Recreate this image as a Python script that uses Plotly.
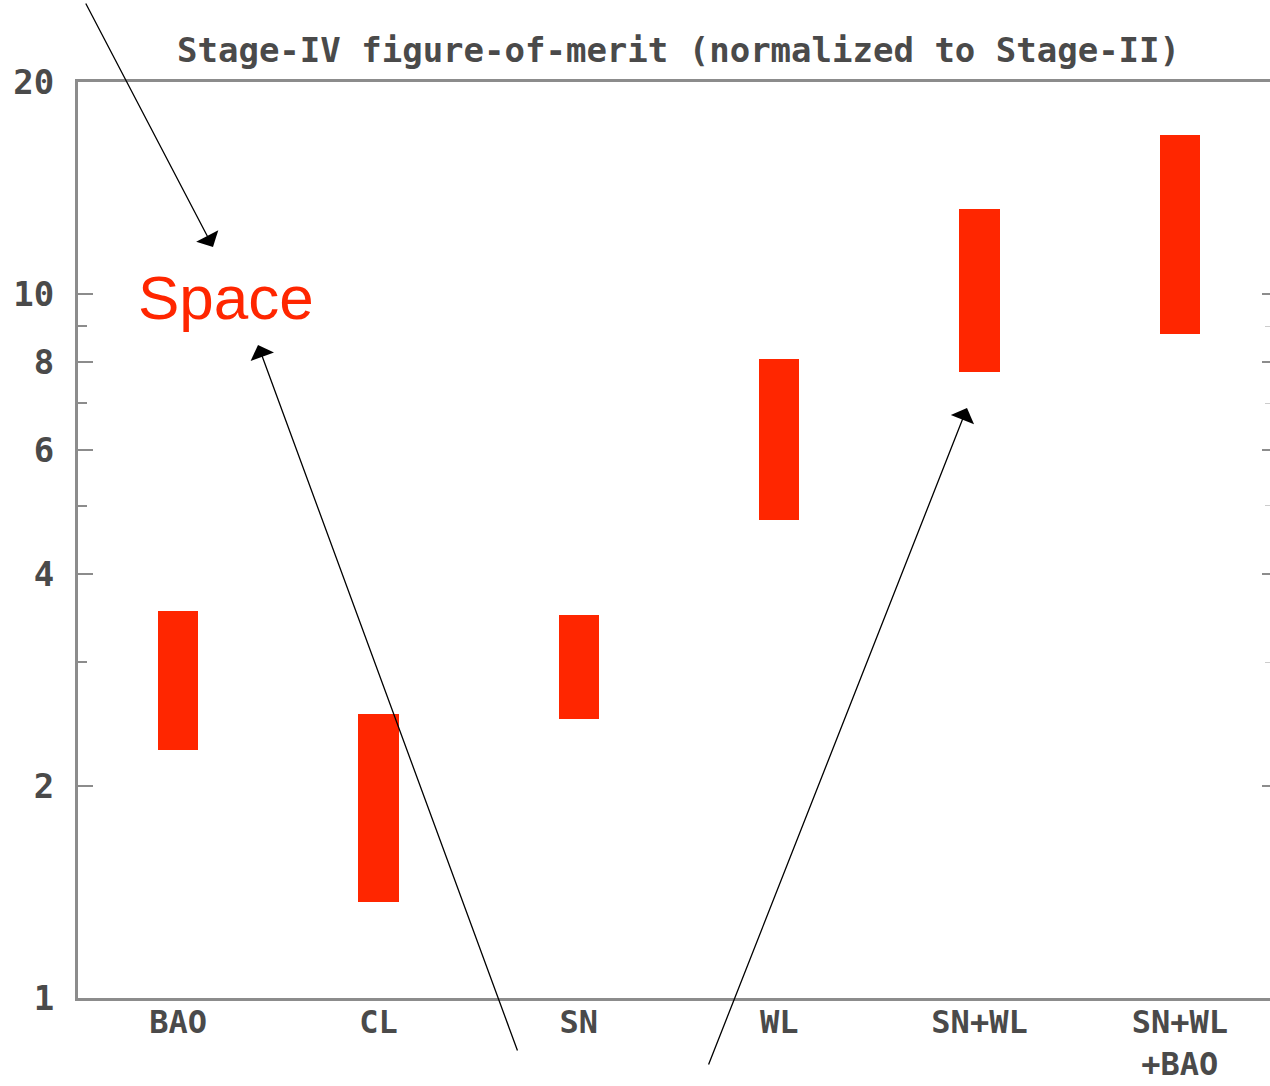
import math
import plotly.graph_objects as go

# Stage-IV figure-of-merit ranges, normalized to Stage-II
categories = ["BAO", "CL", "SN", "WL", "SN+WL", "SN+WL<br>+BAO"]
fom_low = [2.25, 1.37, 2.49, 4.78, 7.74, 8.76]
fom_high = [3.55, 2.53, 3.50, 8.08, 13.2, 16.8]

y_tickvals = [1, 2, 4, 6, 8, 10, 20]
y_ticktext = ["1", "2", "4", "6", "8", "10", "20"]
y_minor = [3, 5, 7, 9]

W, H = 1270, 1086
ML, MR, MT, MB = 78, 0, 82, 88
PW, PH = W - ML - MR, H - MT - MB

RED = "#ff2600"
AXIS = "#8c8c8c"
TEXT = "#4a4a4a"
MONO = "DejaVu Sans Mono"

fig = go.Figure()

x_idx = list(range(len(categories)))
fig.add_trace(go.Bar(
    x=x_idx,
    y=[h - l for l, h in zip(fom_low, fom_high)],
    base=fom_low,
    width=0.2,
    marker=dict(color=RED, line=dict(width=0)),
    hoverinfo="skip",
    showlegend=False,
))
# invisible trace carrying the right-hand tick axis
fig.add_trace(go.Scatter(x=[0], y=[1], yaxis="y2", mode="markers",
                         marker=dict(opacity=0), showlegend=False,
                         hoverinfo="skip"))

yrange = [0, math.log10(20)]

fig.update_layout(
    width=W, height=H,
    margin=dict(l=ML, r=MR, t=MT, b=MB),
    paper_bgcolor="white", plot_bgcolor="white",
    bargap=0,
    xaxis=dict(
        range=[-0.5, 5.45], automargin=False,
        tickmode="array", tickvals=x_idx, ticktext=categories,
        ticks="", showgrid=False, zeroline=False,
        showline=True, linecolor=AXIS, linewidth=3, mirror=True,
        ticklabelstandoff=-6,
        tickfont=dict(family=MONO, size=32, color=TEXT, weight="bold"),
    ),
    yaxis=dict(
        type="log", range=yrange, automargin=False,
        tickmode="array", tickvals=y_tickvals, ticktext=y_ticktext,
        ticks="inside", ticklen=15, tickwidth=2, tickcolor=AXIS,
        minor=dict(tickmode="array", tickvals=y_minor, ticks="inside",
                   ticklen=9, tickwidth=2, tickcolor=AXIS),
        showgrid=False, zeroline=False,
        showline=True, linecolor=AXIS, linewidth=3, mirror=False,
        ticklabelstandoff=14,
        tickfont=dict(family=MONO, size=34, color=TEXT, weight="bold"),
    ),
    yaxis2=dict(
        type="log", range=yrange, overlaying="y", side="right", anchor="x",
        automargin=False,
        tickmode="array", tickvals=[2, 4, 6, 8, 10],
        ticks="inside", ticklen=8, tickwidth=2, tickcolor=AXIS,
        minor=dict(tickmode="array", tickvals=y_minor, ticks="inside",
                   ticklen=5, tickwidth=1, tickcolor="#cccccc"),
        showticklabels=False, showgrid=False, zeroline=False, showline=False,
    ),
)


def px(x):
    return (x - ML) / PW


def py(y):
    return (H - MB - y) / PH


# title
fig.add_annotation(
    x=px(678), y=py(50), xref="paper", yref="paper",
    text="<b>Stage-IV figure-of-merit (normalized to Stage-II)</b>",
    showarrow=False, font=dict(family=MONO, size=34, color=TEXT),
    xanchor="center", yanchor="middle",
)

# "Space" label
fig.add_annotation(
    x=px(226), y=py(297), xref="paper", yref="paper",
    text="Space", showarrow=False,
    font=dict(family="Liberation Sans", size=62, color=RED),
    xanchor="center", yanchor="middle",
)

# arrows: (tail x, tail y, tip x, tip y) in pixels
arrows = [
    (85, 2, 213, 247),
    (518, 1052, 258, 345),
    (708, 1066, 967, 408),
]
for x0, y0, x1, y1 in arrows:
    fig.add_annotation(
        x=px(x1), y=py(y1), xref="paper", yref="paper",
        ax=x0 - x1, ay=y0 - y1, axref="pixel", ayref="pixel",
        text="", showarrow=True,
        arrowhead=1, arrowsize=3.2, arrowwidth=1.3, arrowcolor="black",
    )

fig.write_html("out.html")
